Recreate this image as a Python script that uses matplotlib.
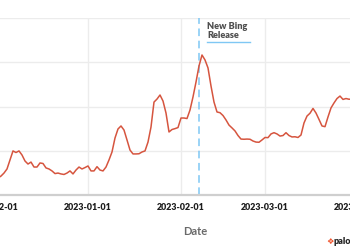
import matplotlib
matplotlib.use("Agg")
import matplotlib.pyplot as plt
import matplotlib.dates as mdates
import pandas as pd

# daily search interest, starting 2022-12-02
START_DATE = "2022-12-02"
interest = [
    9.6, 10.7, 12.4, 14.7, 19.8, 24.9, 24.0, 24.9, 22.6, 19.2,
    17.5, 18.6, 15.8, 15.8, 18.1, 17.8, 15.3, 14.7, 13.6, 12.1,
    12.4, 11.9, 11.6, 12.4, 13.6, 11.9, 14.1, 15.8, 14.7, 15.5,
    16.4, 13.6, 13.6, 16.0, 14.1, 13.6, 15.8, 19.8, 24.3, 32.2,
    37.3, 39.0, 36.7, 31.1, 25.4, 23.2, 23.2, 23.3, 24.3, 24.9,
    29.9, 38.4, 52.5, 54.2, 56.5, 53.1, 46.3, 35.6, 37.0, 37.5,
    38.1, 43.5, 43.5, 43.2, 48.0, 55.4, 63.8, 72.9, 79.1, 76.3,
    71.8, 61.6, 52.5, 46.9, 46.5, 44.9, 42.4, 39.5, 37.9, 36.2,
    33.6, 31.6, 31.5, 31.6, 31.5, 30.5, 29.9, 29.8, 31.1, 32.5,
    32.4, 34.5, 35.2, 34.5, 33.3, 33.6, 35.2, 33.6, 32.8, 32.9,
    32.5, 33.9, 40.7, 44.6, 46.2, 48.9, 46.3, 42.7, 39.0, 38.6,
    44.1, 49.2, 52.0, 54.5, 55.9, 54.0, 54.5, 54.1, 54.2,
]
dates = pd.date_range(START_DATE, periods=len(interest), freq="D")

month_ticks = ["2022-12-01", "2023-01-01", "2023-02-01", "2023-03-01", "2023-04-01"]
y_ticks = [0, 25, 50, 75, 100]
release_date = "2023-02-07"
release_label = "New Bing\nRelease"

LINE_COLOR = "#d6553f"
RELEASE_COLOR = "#7fc7f4"
GRID_COLOR = "#ececec"

W, H = 350, 250
fig = plt.figure(figsize=(W / 100, H / 100), dpi=100)

# axes run past the left/right edges (picture is a crop)
ax_left_px, ax_right_px = -45, 435
ax_top_px, ax_bottom_px = 18, 195
ax = fig.add_axes([ax_left_px / W, 1 - ax_bottom_px / H,
                   (ax_right_px - ax_left_px) / W, (ax_bottom_px - ax_top_px) / H])

ref = pd.Timestamp("2023-01-01")
px_per_day = 3.0
x0 = ref + pd.Timedelta(days=(ax_left_px - 88) / px_per_day)
x1 = ref + pd.Timedelta(days=(ax_right_px - 88) / px_per_day)
ax.set_xlim(x0, x1)
ax.set_ylim(0, 100)

ax.plot(dates, interest, color=LINE_COLOR, lw=1.1, zorder=3)

ax.axvline(pd.Timestamp(release_date), color=RELEASE_COLOR, lw=1.1,
           ls=(0, (5, 3)), zorder=2)

ax.set_xticks(pd.to_datetime(month_ticks))
ax.xaxis.set_major_formatter(mdates.DateFormatter("%Y-%m-%d"))
ax.set_yticks(y_ticks)
ax.set_yticklabels([])
ax.tick_params(axis="both", length=0)
ax.tick_params(axis="x", pad=6)
for lbl in ax.get_xticklabels():
    lbl.set_fontfamily("Lato")
    lbl.set_fontweight("heavy")
    lbl.set_fontsize(6.4)
    lbl.set_color("#1e1e1e")

ax.grid(True, color=GRID_COLOR, lw=1.0, zorder=0)
for side in ["top", "left", "right"]:
    ax.spines[side].set_visible(False)
ax.spines["bottom"].set_color("#cfcfcf")
ax.spines["bottom"].set_linewidth(1.6)

ax.set_xlabel("Date", fontfamily="Lato", fontsize=8, color="#6a6a6a",
              fontweight="bold")
ax.xaxis.set_label_coords((195 - ax_left_px) / (ax_right_px - ax_left_px), -0.175)

# release annotation
fig.text(207 / W, 1 - 22 / H, release_label, ha="left", va="top",
         fontfamily="Lato", fontweight="heavy", fontsize=6.6,
         color="#4f4f4f", linespacing=1.0)
fig.add_artist(plt.Line2D([207 / W, 250 / W], [1 - 41.5 / H, 1 - 41.5 / H],
                          color=RELEASE_COLOR, lw=1.0))

# logo in the corner
fig.text(326 / W, 1 - 241 / H, "\u2756", ha="left", va="center",
         fontsize=6, color="#f0542d")
fig.text(333 / W, 1 - 241 / H, "paloalto", ha="left", va="center",
         fontfamily="Lato", fontweight="heavy", fontsize=6.5, color="#222222")

fig.savefig("out.png", dpi=100)
